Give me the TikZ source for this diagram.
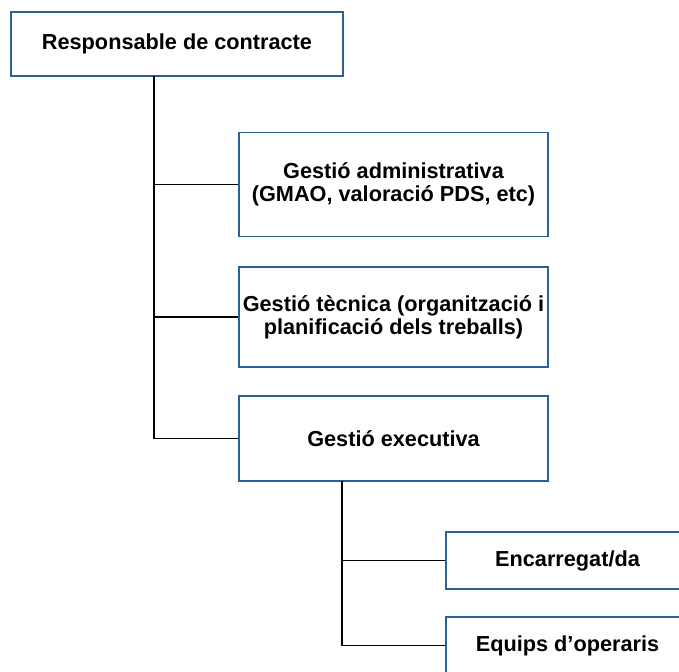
\documentclass[tikz,border=0pt]{standalone}
\usepackage{fontspec}
\setmainfont{Liberation Sans}
\usepackage{tikz}
\definecolor{vora}{HTML}{2F5F98}

\begin{document}
\begin{tikzpicture}
  [x=1pt,y=1pt,
   caixa/.style={draw=vora,line width=1.8pt,fill=white,inner sep=0pt,align=center,
     font=\fontsize{21.7}{23}\selectfont\bfseries},
   linia/.style={draw=black,line width=1.2pt}]
  \useasboundingbox (0,0) rectangle (679,-671);
  \clip (0,0) rectangle (679,-671);
  \node[caixa,minimum width=332pt,minimum height=64pt] (resp) at (177,-44) {Responsable de contracte};
  \node[caixa,minimum width=309pt,minimum height=104pt] (admin) at (393.5,-184.5) {Gestió administrativa\\(GMAO, valoració PDS, etc)};
  \node[caixa,minimum width=309pt,minimum height=100pt] (tecn) at (393.5,-317) {Gestió tècnica (organització i\\planificació dels treballs)};
  \node[caixa,minimum width=309pt,minimum height=85pt] (exec) at (393.5,-438.5) {Gestió executiva};
  \node[caixa,minimum width=243pt,minimum height=57pt] (enc) at (567.5,-560.5) {Encarregat/da};
  \node[caixa,minimum width=243pt,minimum height=57pt] (equips) at (567.5,-645.5) {Equips d’operaris};
  \coordinate (spine) at (154,-76);
  \coordinate (subspine) at (342,-481);
  \foreach \to in {admin,tecn,exec}
    \draw[linia] (spine) |- (\to.west);
  \foreach \to in {enc,equips}
    \draw[linia] (subspine) |- (\to.west);
\end{tikzpicture}
\end{document}
